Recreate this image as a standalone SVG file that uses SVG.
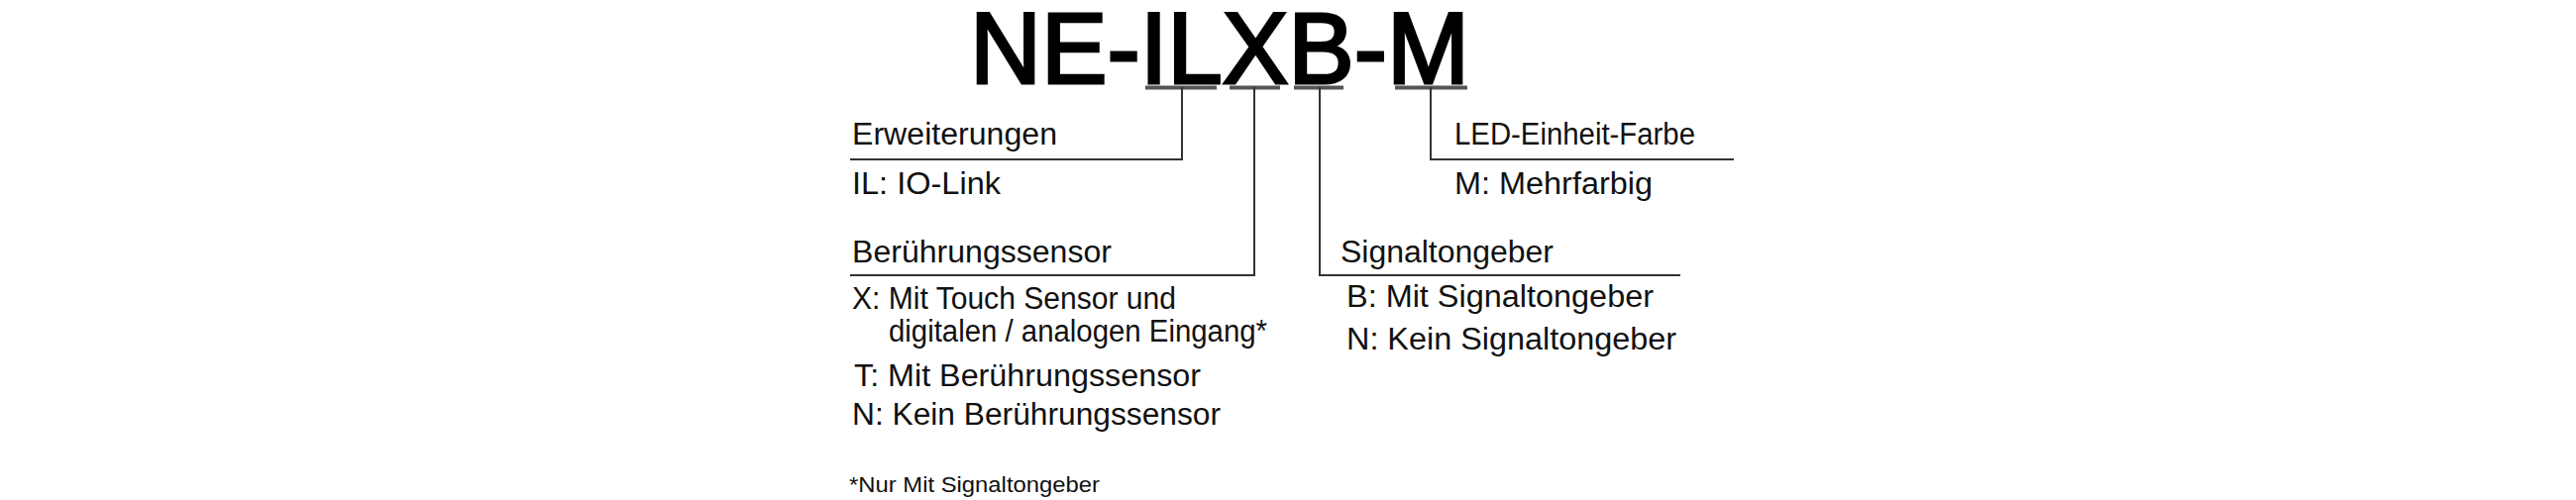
<svg xmlns="http://www.w3.org/2000/svg" width="2600" height="505" viewBox="0 0 2600 505">
<style>
.t{font-family:"Liberation Sans",Arial,sans-serif;font-size:31px;fill:#111}
.f{font-family:"Liberation Sans",Arial,sans-serif;font-size:22px;fill:#111}
.u{stroke:#555;stroke-width:4;fill:none}
.l{stroke:#333;stroke-width:2;fill:none}
</style>
<rect width="2600" height="505" fill="#fff"/>
<g id="title"><text x="979" y="84" font-family="Liberation Sans,Arial,sans-serif" font-size="102" textLength="504" lengthAdjust="spacingAndGlyphs" fill="#000" stroke="#000" stroke-width="3">NE-ILXB-M</text></g>
<g id="connectors">
<line class="u" x1="1156" y1="88.5" x2="1228" y2="88.5"/>
<line class="u" x1="1241" y1="88.5" x2="1292" y2="88.5"/>
<line class="u" x1="1306" y1="88.5" x2="1356" y2="88.5"/>
<line class="u" x1="1408" y1="88.5" x2="1481" y2="88.5"/>
<polyline class="l" points="1193,88 1193,161 858,161"/>
<polyline class="l" points="1266,88 1266,278 858,278"/>
<polyline class="l" points="1332,88 1332,278 1696,278"/>
<polyline class="l" points="1444,88 1444,161 1750,161"/>
</g>
<g id="erweiterungen"><text class="t" x="860" y="146" textLength="207" lengthAdjust="spacingAndGlyphs">Erweiterungen</text><text class="t" x="860" y="196" textLength="150" lengthAdjust="spacingAndGlyphs">IL: IO-Link</text></g>
<g id="led"><text class="t" x="1468" y="146" textLength="243" lengthAdjust="spacingAndGlyphs">LED-Einheit-Farbe</text><text class="t" x="1468" y="196" textLength="200" lengthAdjust="spacingAndGlyphs">M: Mehrfarbig</text></g>
<g id="beruehrung"><text class="t" x="860" y="265" textLength="262" lengthAdjust="spacingAndGlyphs">Berührungssensor</text>
<text class="t" x="860" y="312" textLength="327" lengthAdjust="spacingAndGlyphs">X: Mit Touch Sensor und</text>
<text class="t" x="897" y="345" textLength="382" lengthAdjust="spacingAndGlyphs">digitalen / analogen Eingang*</text>
<text class="t" x="862" y="390" textLength="350" lengthAdjust="spacingAndGlyphs">T: Mit Berührungssensor</text>
<text class="t" x="860" y="429" textLength="372" lengthAdjust="spacingAndGlyphs">N: Kein Berührungssensor</text></g>
<g id="signal"><text class="t" x="1353" y="265" textLength="215" lengthAdjust="spacingAndGlyphs">Signaltongeber</text>
<text class="t" x="1359" y="310" textLength="310" lengthAdjust="spacingAndGlyphs">B: Mit Signaltongeber</text>
<text class="t" x="1359" y="353" textLength="333" lengthAdjust="spacingAndGlyphs">N: Kein Signaltongeber</text></g>
<g id="footnote"><text class="f" x="857" y="497" textLength="253" lengthAdjust="spacingAndGlyphs">*Nur Mit Signaltongeber</text></g>
</svg>
